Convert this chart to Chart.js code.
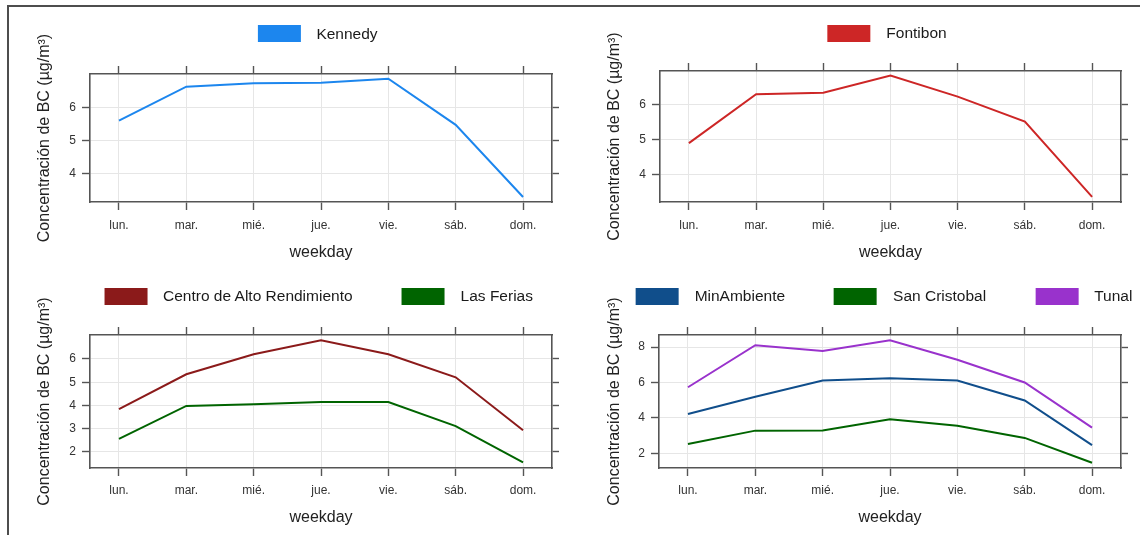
<!DOCTYPE html>
<html>
<head>
<meta charset="utf-8">
<script src="https://cdn.jsdelivr.net/npm/chart.js@4.4.1/dist/chart.umd.min.js"></script>
<style>
  body { margin: 0; background: #fff; font-family: "Liberation Sans", Arial, sans-serif; }
  #page { position: relative; width: 1140px; height: 535px; overflow: hidden; }
  #frame { position: absolute; left: 7px; top: 5px; width: 1200px; height: 600px;
           border-left: 2px solid #4d4d4d; border-top: 2px solid #4d4d4d; }
  canvas { position: absolute; }
  .legend { position: absolute; display: flex; align-items: center; gap: 49px;
            transform: translate(-50%, -50%); white-space: nowrap; font-size: 15.5px; color: #1a1a1a; }
  .legend .item { display: flex; align-items: center; }
  .legend .box { width: 43px; height: 17px; margin-right: 16px; }
</style>
</head>
<body>
<div id="page">
  <div id="frame"></div>
  <canvas id="c1" width="570" height="267" style="left:0;top:0"></canvas>
  <canvas id="c2" width="570" height="267" style="left:570px;top:0"></canvas>
  <canvas id="c3" width="570" height="268" style="left:0;top:267px"></canvas>
  <canvas id="c4" width="570" height="268" style="left:570px;top:267px"></canvas>
</div>
<script>
// weekday categories
const days = ["lun.", "mar.", "mié.", "jue.", "vie.", "sáb.", "dom."];
const xRange = [-0.43, 6.43];

// BC concentration by station (µg/m³)
const kennedy      = [5.60, 6.62, 6.72, 6.74, 6.86, 5.47, 3.30];
const fontibon     = [4.90, 6.31, 6.35, 6.85, 6.24, 5.52, 3.35];
const centroAR     = [3.84, 5.34, 6.20, 6.80, 6.20, 5.21, 2.93];
const lasFerias    = [2.56, 3.98, 4.05, 4.15, 4.15, 3.11, 1.55];
const minAmbiente  = [4.22, 5.19, 6.11, 6.24, 6.11, 4.98, 2.46];
const sanCristobal = [2.53, 3.28, 3.29, 3.92, 3.55, 2.87, 1.47];
const tunal        = [5.73, 8.10, 7.78, 8.38, 7.28, 6.00, 3.45];

// y axis limits and tick labels per panel
const yRange1 = [3.15, 7.00], yTicks1 = [4, 5, 6];
const yRange2 = [3.20, 6.98], yTicks2 = [4, 5, 6];
const yRange3 = [1.31, 7.03], yTicks3 = [2, 3, 4, 5, 6];
const yRange4 = [1.17, 8.68], yTicks4 = [2, 4, 6, 8];

const yTitle = "Concentración de BC (µg/m³)";
const xTitle = "weekday";

const FONT = "'Liberation Sans', Arial, sans-serif";
const FRAME = "#555555";
const GRID = "#e6e6e6";
const TICKTXT = "#333333";

const panels = [
  { id: "c1", left: 0, top: 0, yRange: yRange1, yTicks: yTicks1,
    area: { left: 90, right: 552, top: 74, bottom: 202 }, xPad: 8, titleBottom: 5,
    legend: { x: 317.5, y: 33.5 },
    series: [{ label: "Kennedy", data: kennedy, color: "#1C86EE" }] },
  { id: "c2", left: 570, top: 0, yRange: yRange2, yTicks: yTicks2,
    area: { left: 90, right: 551, top: 71, bottom: 202 }, xPad: 8, titleBottom: 5,
    legend: { x: 887, y: 33 },
    series: [{ label: "Fontibon", data: fontibon, color: "#CD2626" }] },
  { id: "c3", left: 0, top: 267, yRange: yRange3, yTicks: yTicks3,
    area: { left: 90, right: 552, top: 68, bottom: 201 }, xPad: 7, titleBottom: 8,
    legend: { x: 318.5, y: 29 },
    series: [{ label: "Centro de Alto Rendimiento", data: centroAR, color: "#8B1A1A" },
             { label: "Las Ferias", data: lasFerias, color: "#006400" }] },
  { id: "c4", left: 570, top: 267, yRange: yRange4, yTicks: yTicks4,
    area: { left: 89, right: 551, top: 68, bottom: 201 }, xPad: 7, titleBottom: 8,
    legend: { x: 884, y: 29 },
    series: [{ label: "MinAmbiente", data: minAmbiente, color: "#104E8B" },
             { label: "San Cristobal", data: sanCristobal, color: "#006400" },
             { label: "Tunal", data: tunal, color: "#9932CC" }] }
];

function setTicks(values) {
  return scale => { scale.ticks = values.map(v => ({ value: v })); };
}

function pinSize(size) {
  return scale => {
    if (scale.isHorizontal()) scale.height = size;
    else scale.width = size;
  };
}

function htmlLegend(p) {
  const div = document.createElement("div");
  div.className = "legend";
  div.style.left = p.legend.x + "px";
  div.style.top = (p.top + p.legend.y) + "px";
  p.series.forEach(s => {
    const item = document.createElement("div");
    item.className = "item";
    item.innerHTML = `<span class="box" style="background:${s.color}"></span><span>${s.label}</span>`;
    div.appendChild(item);
  });
  document.getElementById("page").appendChild(div);
}

function makePanel(p) {
  const canvas = document.getElementById(p.id);
  const W = canvas.width, H = canvas.height;
  const catTicks = days.map((d, i) => i);

  const frameBorder = { display: true, color: FRAME, width: 1.6 };

  new Chart(canvas.getContext("2d"), {
    type: "line",
    data: {
      datasets: p.series.map(s => ({
        label: s.label,
        data: s.data.map((v, i) => ({ x: i, y: v })),
        borderColor: s.color,
        backgroundColor: s.color,
        borderWidth: 2,
        pointRadius: 0,
        tension: 0,
        xAxisID: "x",
        yAxisID: "y"
      }))
    },
    options: {
      responsive: false,
      animation: false,
      devicePixelRatio: 1,
      layout: { padding: 0 },
      plugins: { legend: { display: false }, tooltip: { enabled: false } },
      scales: {
        x: {
          type: "linear", position: "bottom",
          min: xRange[0], max: xRange[1],
          afterBuildTicks: setTicks(catTicks),
          afterFit: pinSize(H - p.area.bottom),
          ticks: {
            autoSkip: false, maxRotation: 0, padding: p.xPad,
            color: TICKTXT, font: { family: FONT, size: 12 },
            callback: v => days[v]
          },
          grid: { color: GRID, lineWidth: 1, tickColor: FRAME, tickLength: 8, tickWidth: 1.4 },
          border: frameBorder,
          title: { display: true, text: xTitle, color: "#222",
                   font: { family: FONT, size: 16 }, padding: { top: 0, bottom: p.titleBottom } }
        },
        x2: {
          type: "linear", position: "top",
          min: xRange[0], max: xRange[1],
          afterBuildTicks: setTicks(catTicks),
          afterFit: pinSize(p.area.top),
          ticks: { display: false },
          grid: { drawOnChartArea: false, color: GRID, tickColor: FRAME, tickLength: 8, tickWidth: 1.4 },
          border: frameBorder
        },
        y: {
          type: "linear", position: "left",
          min: p.yRange[0], max: p.yRange[1],
          afterBuildTicks: setTicks(p.yTicks),
          afterFit: pinSize(p.area.left),
          ticks: { padding: 6, color: TICKTXT, font: { family: FONT, size: 12 } },
          grid: { color: GRID, lineWidth: 1, tickColor: FRAME, tickLength: 8, tickWidth: 1.4 },
          border: frameBorder,
          title: { display: true, text: yTitle, color: "#222",
                   font: { family: FONT, size: 16 }, padding: { top: 35, bottom: 0 } }
        },
        y2: {
          type: "linear", position: "right",
          min: p.yRange[0], max: p.yRange[1],
          afterBuildTicks: setTicks(p.yTicks),
          afterFit: pinSize(W - p.area.right),
          ticks: { display: false },
          grid: { drawOnChartArea: false, color: GRID, tickColor: FRAME, tickLength: 7, tickWidth: 1.4 },
          border: frameBorder
        }
      }
    }
  });

  htmlLegend(p);
}

panels.forEach(makePanel);
</script>
</body>
</html>
